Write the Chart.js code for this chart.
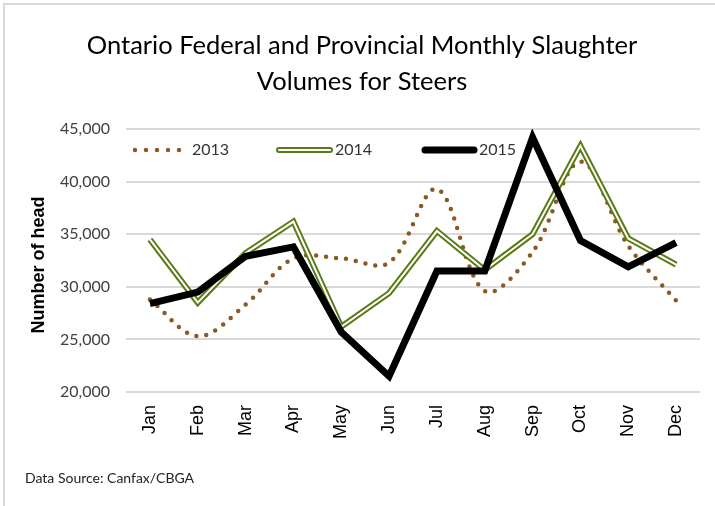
<!DOCTYPE html>
<html>
<head>
<meta charset="utf-8">
<script src="https://cdn.jsdelivr.net/npm/chart.js@4.4.1/dist/chart.umd.min.js"></script>
<style>
  html, body { margin: 0; padding: 0; background: #fff; }
  #wrap { width: 715px; height: 506px; position: relative; }
</style>
</head>
<body>
<div id="wrap"><canvas id="chart" width="715" height="506"></canvas></div>
<script>
// --- Данные ---
const months = ['Jan', 'Feb', 'Mar', 'Apr', 'May', 'Jun', 'Jul', 'Aug', 'Sep', 'Oct', 'Nov', 'Dec'];
const vol2013 = [28800, 25300, 28300, 32700, 32700, 32300, 39300, 29600, 33300, 41900, 33900, 28700];
const vol2014 = [34500, 28500, 33200, 36200, 26200, 29400, 35300, 31600, 35000, 43400, 34600, 32100];
const vol2015 = [28400, 29500, 32900, 33800, 25700, 21500, 31500, 31500, 44200, 34400, 31900, 34200];
const yTicks = [20000, 25000, 30000, 35000, 40000, 45000];

const titleLines = ['Ontario Federal and Provincial Monthly Slaughter', 'Volumes for Steers'];
const yTitle = 'Number of head';
const sourceText = 'Data Source: Canfax/CBGA';

const BROWN = '#8a5a22';
const OLIVE = '#5a7a16';
const FONT = 'Lato, "Open Sans", sans-serif';
const ARIAL = '"Liberation Sans", Arial, sans-serif';

// --- Подписи, легенда, рамка ---
const decorPlugin = {
    id: 'decor',
    beforeDraw(chart) {
        const ctx = chart.ctx;
        ctx.save();
        // рамка как в Excel
        ctx.strokeStyle = '#d9d9d9';
        ctx.lineWidth = 2;
        ctx.beginPath();
        ctx.moveTo(4, 506);
        ctx.lineTo(4, 4);
        ctx.lineTo(715, 4);
        ctx.stroke();
        ctx.restore();
    },
    afterDraw(chart) {
        const ctx = chart.ctx;
        ctx.save();
        ctx.fillStyle = '#000';
        ctx.textAlign = 'center';
        ctx.textBaseline = 'middle';
        ctx.font = '25.5px ' + FONT;
        ctx.fillText(titleLines[0], 362, 46);
        ctx.fillText(titleLines[1], 362, 82);

        // подпись оси Y
        ctx.save();
        ctx.translate(39, 265);
        ctx.rotate(-Math.PI / 2);
        ctx.font = 'bold 18px ' + ARIAL;
        ctx.fillText(yTitle, 0, 0);
        ctx.restore();

        // источник
        ctx.textAlign = 'left';
        ctx.font = '14px ' + FONT;
        ctx.fillStyle = '#222';
        ctx.fillText(sourceText, 25, 478);

        // легенда
        const ly = 150;
        ctx.font = '16px ' + FONT;
        ctx.fillStyle = '#333';
        // 2013 — точки
        ctx.strokeStyle = BROWN;
        ctx.lineWidth = 4.5;
        ctx.lineCap = 'round';
        ctx.setLineDash([0, 11]);
        ctx.beginPath(); ctx.moveTo(135, ly); ctx.lineTo(184, ly); ctx.stroke();
        ctx.setLineDash([]);
        ctx.fillText(chart.data.datasets[0].label, 192, ly);
        // 2014 — двойная линия
        ctx.strokeStyle = OLIVE; ctx.lineWidth = 6;
        ctx.beginPath(); ctx.moveTo(279, ly); ctx.lineTo(330, ly); ctx.stroke();
        ctx.strokeStyle = '#fff'; ctx.lineWidth = 2;
        ctx.beginPath(); ctx.moveTo(279, ly); ctx.lineTo(330, ly); ctx.stroke();
        ctx.fillText(chart.data.datasets[1].label, 335, ly);
        // 2015 — жирная чёрная
        ctx.strokeStyle = '#000'; ctx.lineWidth = 7;
        ctx.beginPath(); ctx.moveTo(425, ly); ctx.lineTo(474, ly); ctx.stroke();
        ctx.fillText(chart.data.datasets[3].label, 479, ly);
        ctx.restore();
    }
};

const ctx = document.getElementById('chart').getContext('2d');
new Chart(ctx, {
    type: 'line',
    data: {
        labels: months,
        datasets: [
            { label: '2013', data: vol2013, borderColor: BROWN, borderWidth: 4.5, borderDash: [0, 10], borderCapStyle: 'round', tension: 0.35, pointRadius: 0, order: 3 },
            { label: '2014', data: vol2014, borderColor: OLIVE, borderWidth: 6, tension: 0, pointRadius: 0, order: 2 },
            { label: '2014w', data: vol2014, borderColor: '#fff', borderWidth: 2, tension: 0, pointRadius: 0, order: 1 },
            { label: '2015', data: vol2015, borderColor: '#000', borderWidth: 7, borderJoinStyle: 'miter', tension: 0, pointRadius: 0, order: 0 }
        ]
    },
    options: {
        responsive: false,
        animation: false,
        events: [],
        layout: { padding: { left: 0, top: 129, right: 15, bottom: 0 } },
        plugins: { legend: { display: false }, title: { display: false }, tooltip: { enabled: false } },
        scales: {
            x: {
                offset: true,
                grid: { display: false, drawTicks: false },
                border: { display: false },
                ticks: { minRotation: 90, maxRotation: 90, padding: 13, color: '#000', font: { family: ARIAL, size: 18 } },
                afterFit(scale) { scale.height = 114; }
            },
            y: {
                min: 20000,
                max: 45000,
                afterBuildTicks(scale) { scale.ticks = yTicks.map(v => ({ value: v })); },
                grid: { color: '#d9d9d9', lineWidth: 2, drawTicks: false },
                border: { display: false },
                ticks: {
                    padding: 16,
                    color: '#404040',
                    font: { family: FONT, size: 16 },
                    callback: v => v.toLocaleString('en-US')
                },
                afterFit(scale) { scale.width = 126; }
            }
        }
    },
    plugins: [decorPlugin]
});
</script>
</body>
</html>
